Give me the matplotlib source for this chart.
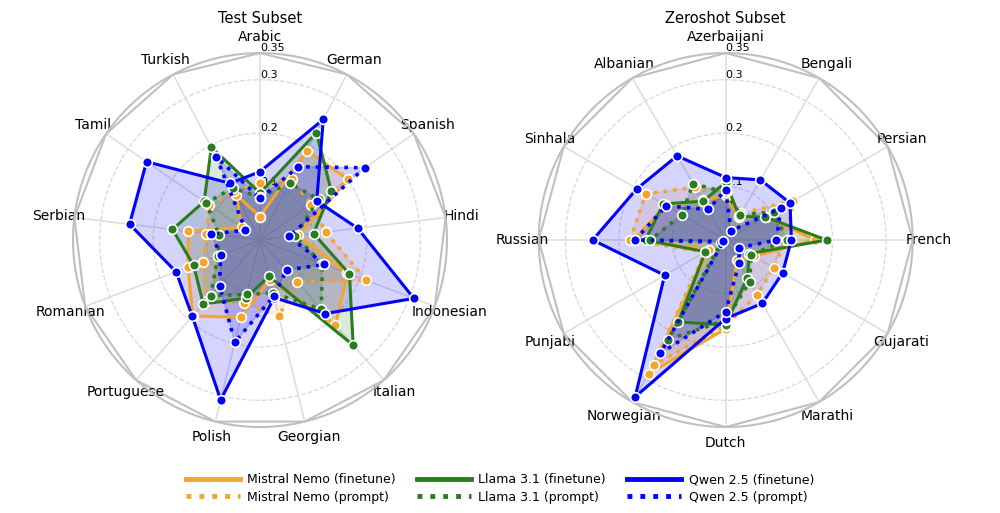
import numpy as np
import matplotlib
matplotlib.use('Agg')
import matplotlib.pyplot as plt
from matplotlib.lines import Line2D

# categories
test_langs = ['Arabic', 'German', 'Spanish', 'Hindi', 'Indonesian', 'Italian', 'Georgian',
              'Polish', 'Portuguese', 'Romanian', 'Serbian', 'Tamil', 'Turkish']
zs_langs = ['Azerbaijani', 'Bengali', 'Persian', 'French', 'Gujarati', 'Marathi', 'Dutch',
            'Norwegian', 'Punjabi', 'Russian', 'Sinhala', 'Albanian']

# test subset scores
test_mistral_ft = [0.044, 0.189, 0.200, 0.072, 0.175, 0.213, 0.077, 0.149, 0.190, 0.144, 0.135, 0.042, 0.095]
test_mistral_pr = [0.106, 0.129, 0.117, 0.124, 0.213, 0.104, 0.147, 0.122, 0.153, 0.114, 0.101, 0.115, 0.103]
test_llama_ft = [0.088, 0.227, 0.162, 0.101, 0.179, 0.263, 0.070, 0.112, 0.160, 0.133, 0.165, 0.127, 0.196]
test_llama_pr = [0.080, 0.120, 0.134, 0.066, 0.125, 0.173, 0.102, 0.105, 0.139, 0.084, 0.077, 0.122, 0.110]
test_qwen_ft = [0.128, 0.255, 0.129, 0.184, 0.308, 0.184, 0.111, 0.308, 0.191, 0.168, 0.246, 0.258, 0.120]
test_qwen_pr = [0.078, 0.155, 0.238, 0.055, 0.129, 0.075, 0.108, 0.197, 0.114, 0.079, 0.092, 0.033, 0.176]

# zeroshot subset scores
zs_mistral_ft = [0.084, 0.050, 0.088, 0.167, 0.061, 0.043, 0.166, 0.289, 0.036, 0.172, 0.130, 0.086]
zs_mistral_pr = [0.090, 0.058, 0.146, 0.112, 0.104, 0.118, 0.160, 0.270, 0.045, 0.179, 0.173, 0.114]
zs_llama_ft = [0.108, 0.051, 0.086, 0.189, 0.051, 0.081, 0.159, 0.177, 0.044, 0.150, 0.135, 0.084]
zs_llama_pr = [0.089, 0.055, 0.105, 0.114, 0.055, 0.090, 0.150, 0.215, 0.010, 0.141, 0.095, 0.122]
zs_qwen_ft = [0.117, 0.130, 0.139, 0.123, 0.123, 0.137, 0.147, 0.339, 0.132, 0.249, 0.192, 0.182]
zs_qwen_pr = [0.094, 0.020, 0.119, 0.095, 0.029, 0.050, 0.134, 0.245, 0.005, 0.170, 0.128, 0.066]

r_ticks = [0.1, 0.2, 0.3, 0.35]
r_max = 0.35

ORANGE = '#f5a52c'
GREEN = '#2a7d1e'
BLUE = '#0000ff'


def radar(ax, langs, series, title):
    n = len(langs)
    angles = np.linspace(0, 2 * np.pi, n, endpoint=False)
    closed = np.concatenate([angles, angles[:1]])

    ax.set_theta_offset(np.pi / 2)
    ax.set_theta_direction(-1)
    ax.set_ylim(0, r_max)

    for vals, color, ls in series:
        v = np.concatenate([vals, vals[:1]])
        ax.plot(closed, v, color=color, linestyle=ls, linewidth=2.2 if ls == '-' else 2.6,
                marker='o', markersize=7, markeredgecolor='white', markeredgewidth=1.2,
                zorder=3)
        ax.fill(closed, v, color=color, alpha=0.17, zorder=2)

    # outer polygon frame
    ax.plot(closed, [r_max] * (n + 1), color='#c0c0c0', linewidth=1.5, zorder=1)

    ax.set_xticks(angles)
    ax.set_xticklabels(langs, fontsize=10)
    ax.tick_params(axis='x', pad=1)
    ax.set_yticks(r_ticks)
    ax.set_yticklabels([str(t) for t in r_ticks], fontsize=8)
    ax.set_rlabel_position(0)
    ax.yaxis.grid(True, linestyle='--', color='#d8d8d8', linewidth=0.9)
    ax.xaxis.grid(True, linestyle='-', color='#dcdcdc', linewidth=1.1)
    ax.spines['polar'].set_color('#c0c0c0')
    ax.spines['polar'].set_linewidth(1.5)
    ax.set_title(title, fontsize=10.5, y=1.08, pad=0)


def main():
    fig = plt.figure(figsize=(10, 5.13), dpi=100)
    ax1 = fig.add_axes([0.073, 0.1676, 0.374, 0.729], projection='polar')
    ax2 = fig.add_axes([0.5387, 0.1676, 0.374, 0.729], projection='polar')

    test_series = [
        (test_mistral_ft, ORANGE, '-'), (test_mistral_pr, ORANGE, ':'),
        (test_llama_ft, GREEN, '-'), (test_llama_pr, GREEN, ':'),
        (test_qwen_ft, BLUE, '-'), (test_qwen_pr, BLUE, ':'),
    ]
    zs_series = [
        (zs_mistral_ft, ORANGE, '-'), (zs_mistral_pr, ORANGE, ':'),
        (zs_llama_ft, GREEN, '-'), (zs_llama_pr, GREEN, ':'),
        (zs_qwen_ft, BLUE, '-'), (zs_qwen_pr, BLUE, ':'),
    ]
    radar(ax1, test_langs, test_series, 'Test Subset')
    radar(ax2, zs_langs, zs_series, 'Zeroshot Subset')

    handles = [
        Line2D([0], [0], color=ORANGE, lw=3.5, ls='-'),
        Line2D([0], [0], color=ORANGE, lw=3.5, ls=':'),
        Line2D([0], [0], color=GREEN, lw=3.5, ls='-'),
        Line2D([0], [0], color=GREEN, lw=3.5, ls=':'),
        Line2D([0], [0], color=BLUE, lw=3.5, ls='-'),
        Line2D([0], [0], color=BLUE, lw=3.5, ls=':'),
    ]
    labels = ['Mistral Nemo (finetune)', 'Mistral Nemo (prompt)',
              'Llama 3.1 (finetune)', 'Llama 3.1 (prompt)',
              'Qwen 2.5 (finetune)', 'Qwen 2.5 (prompt)']
    fig.legend(handles, labels, loc='lower center', ncol=3, frameon=False,
               bbox_to_anchor=(0.5, -0.004), fontsize=9, handlelength=4.3,
               columnspacing=1.7, labelspacing=0.35, handletextpad=0.6)

    fig.savefig('out.png', dpi=100)
    plt.close(fig)


if __name__ == '__main__':
    main()
